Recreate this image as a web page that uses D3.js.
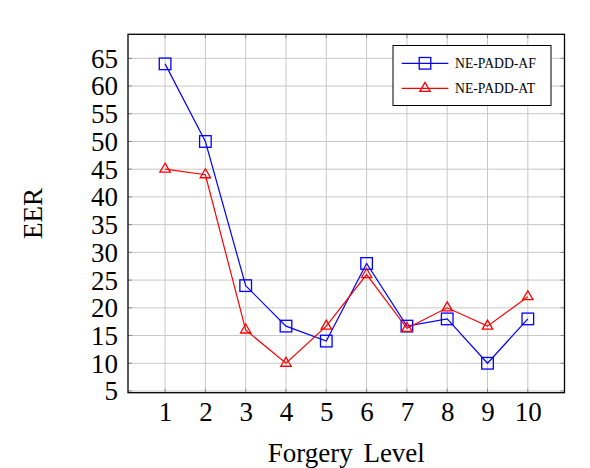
<!DOCTYPE html>
<html>
<head>
<meta charset="utf-8">
<script src="https://cdn.jsdelivr.net/npm/d3@7"></script>
<style>
  body { margin: 0; background: #fff; }
  svg text { font-family: 'Liberation Serif', 'Times New Roman', serif !important; fill: #000; }
</style>
</head>
<body>
<svg id="chart" width="590" height="468"></svg>
<script>
// forgery levels and EER for both methods
var levels = [1, 2, 3, 4, 5, 6, 7, 8, 9, 10]
var eerAF = [64, 50, 24, 16.7, 14, 28, 16.7, 18, 10, 18]
var eerAT = [45, 44, 16, 10, 16.7, 26, 16.3, 20, 16.7, 22]
var yTicks = [5, 10, 15, 20, 25, 30, 35, 40, 45, 50, 55, 60, 65]
var seriesNames = ['NE-PADD-AF', 'NE-PADD-AT']

var svg = d3.select('#chart')

// plot box (window.top is taken, so p* names)
var pLeft = 128, pRight = 564.5, pTop = 34.3, pBottom = 392.7

var x = d3.scaleLinear().domain([0.08, 10.91]).range([pLeft, pRight])
var y = d3.scaleLinear().domain([4.69, 69.33]).range([pBottom, pTop])

// grid
var grid = svg.append('g').attr('stroke', '#c8c8c8').attr('stroke-width', 1)
grid.selectAll('line.v').data(levels).enter().append('line')
  .attr('class', 'v')
  .attr('x1', d => x(d)).attr('x2', d => x(d))
  .attr('y1', pTop).attr('y2', pBottom)
grid.selectAll('line.h').data(yTicks).enter().append('line')
  .attr('class', 'h')
  .attr('x1', pLeft).attr('x2', pRight)
  .attr('y1', d => y(d)).attr('y2', d => y(d))

// small inner ticks on all sides
var ticks = svg.append('g').attr('stroke', '#777').attr('stroke-width', 0.8)
levels.forEach(function(d) {
  ticks.append('line').attr('x1', x(d)).attr('x2', x(d)).attr('y1', pBottom).attr('y2', pBottom - 4)
  ticks.append('line').attr('x1', x(d)).attr('x2', x(d)).attr('y1', pTop).attr('y2', pTop + 4)
})
yTicks.forEach(function(d) {
  ticks.append('line').attr('x1', pLeft).attr('x2', pLeft + 4).attr('y1', y(d)).attr('y2', y(d))
  ticks.append('line').attr('x1', pRight).attr('x2', pRight - 4).attr('y1', y(d)).attr('y2', y(d))
})

// tick labels via d3 axes, lines hidden
var xAxis = svg.append('g')
  .attr('transform', 'translate(0,' + (pBottom + 10) + ')')
  .call(d3.axisBottom(x).tickValues(levels).tickSize(0).tickPadding(0))
xAxis.attr('font-family', null)
xAxis.select('.domain').remove()
xAxis.selectAll('text')
  .attr('font-size', 27).attr('fill', '#000')
  .attr('dy', '0.68em')

var yAxis = svg.append('g')
  .attr('transform', 'translate(' + (pLeft - 10) + ',0)')
  .call(d3.axisLeft(y).tickValues(yTicks).tickSize(0).tickPadding(0))
yAxis.attr('font-family', null)
yAxis.select('.domain').remove()
yAxis.selectAll('text')
  .attr('font-size', 27).attr('fill', '#000')
  .attr('dy', '0.33em')

// frame
svg.append('rect')
  .attr('x', pLeft).attr('y', pTop)
  .attr('width', pRight - pLeft).attr('height', pBottom - pTop)
  .attr('fill', 'none').attr('stroke', '#000').attr('stroke-width', 1.3)

var line = d3.line().x((d, i) => x(levels[i])).y(d => y(d))

function square(g, cx, cy, color) {
  g.append('rect')
    .attr('x', cx - 5.8).attr('y', cy - 5.8)
    .attr('width', 11.6).attr('height', 11.6)
    .attr('fill', 'none').attr('stroke', color).attr('stroke-width', 1.3)
}
function triangle(g, cx, cy, color) {
  var r = 6
  g.append('path')
    .attr('d', 'M' + cx + ',' + (cy - r) +
      'L' + (cx + 0.866 * r) + ',' + (cy + 0.5 * r) +
      'L' + (cx - 0.866 * r) + ',' + (cy + 0.5 * r) + 'Z')
    .attr('fill', 'none').attr('stroke', color).attr('stroke-width', 1.3)
}

var series = [
  { name: seriesNames[0], values: eerAF, color: '#0000ff', mark: square },
  { name: seriesNames[1], values: eerAT, color: '#ff0000', mark: triangle }
]

series.forEach(function(s) {
  var g = svg.append('g')
  g.append('path')
    .attr('d', line(s.values))
    .attr('fill', 'none').attr('stroke', s.color).attr('stroke-width', 1.2)
  s.values.forEach(function(v, i) { s.mark(g, x(levels[i]), y(v), s.color) })
})

// legend
var lg = svg.append('g')
lg.append('rect')
  .attr('x', 393).attr('y', 45.5).attr('width', 158).attr('height', 60)
  .attr('fill', '#fff').attr('stroke', '#000').attr('stroke-width', 1)
series.forEach(function(s, i) {
  var ly = 63.3 + i * 25
  lg.append('line')
    .attr('x1', 401.7).attr('x2', 448.3).attr('y1', ly).attr('y2', ly)
    .attr('stroke', s.color).attr('stroke-width', 1.2)
  s.mark(lg, 425, ly, s.color)
  lg.append('text')
    .attr('x', 455).attr('y', ly).attr('dy', '0.35em')
    .attr('font-size', 13.7)
    .text(s.name)
})

// axis titles
svg.append('text')
  .attr('x', (pLeft + pRight) / 2).attr('y', 461.7)
  .attr('text-anchor', 'middle').attr('font-size', 27)
  .attr('word-spacing', 4)
  .text('Forgery Level')

svg.append('text')
  .attr('transform', 'translate(41.7,' + (pTop + pBottom) / 2 + ') rotate(-90)')
  .attr('text-anchor', 'middle').attr('font-size', 27)
  .text('EER')
</script>
</body>
</html>
